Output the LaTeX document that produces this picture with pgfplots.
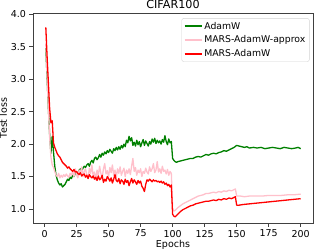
\documentclass[border=0pt]{standalone}
\usepackage{pgfplots}
\pgfplotsset{compat=1.18}
\usepackage{fontspec}
\setmainfont{DejaVu Sans}
\definecolor{mplgreen}{RGB}{0,128,0}
\definecolor{mplpink}{RGB}{255,192,203}
\definecolor{mplred}{RGB}{255,0,0}
\pgfplotstableread{
e v
1 3.48
2 3.02
3 2.55
4 2.15
5 1.86
6 2.12
7 1.88
8 1.66
9 1.52
10 1.45
11 1.40
12 1.37
13 1.39
14 1.34
15 1.36
16 1.38
17 1.42
18 1.46
19 1.44
20 1.49
21 1.47
22 1.52
23 1.50
24 1.55
25 1.57
26 1.54
27 1.60
28 1.62
29 1.59
30 1.63
31 1.66
32 1.64
33 1.68
34 1.70
35 1.66
36 1.72
37 1.75
38 1.71
39 1.78
40 1.80
41 1.76
42 1.79
43 1.84
44 1.80
45 1.86
46 1.83
47 1.88
48 1.85
49 1.90
50 1.87
51 1.92
52 1.89
53 1.86
54 1.93
55 1.90
56 1.95
57 1.91
58 1.96
59 1.92
60 1.98
61 1.94
62 2.00
63 1.96
64 2.06
65 2.02
66 2.12
67 2.05
68 2.10
69 1.98
70 2.03
71 1.97
72 2.06
73 1.99
74 2.04
75 1.96
76 2.02
77 2.07
78 1.98
79 2.05
80 2.01
81 1.97
82 2.04
83 2.00
84 2.08
85 2.03
86 2.09
87 2.01
88 2.06
89 2.02
90 2.05
91 2.00
92 2.07
93 2.03
94 2.13
95 2.04
96 1.99
97 2.08
98 2.02
99 2.04
100 1.78
101 1.75
102 1.73
103 1.72
104 1.73
106 1.74
108 1.75
110 1.76
112 1.77
114 1.78
116 1.78
118 1.80
120 1.81
122 1.80
124 1.82
126 1.84
128 1.83
130 1.85
132 1.86
134 1.85
136 1.87
138 1.88
140 1.90
142 1.89
144 1.91
146 1.93
148 1.95
150 1.98
152 1.97
154 1.96
156 1.95
158 1.96
160 1.94
163 1.95
166 1.94
169 1.95
172 1.93
175 1.94
178 1.95
181 1.94
184 1.93
187 1.95
190 1.94
193 1.93
196 1.94
198 1.95
200 1.93
}\adamwtab
\pgfplotstableread{
e v
1 3.55
2 3.05
3 2.55
4 2.10
5 1.80
6 1.68
7 1.64
8 1.58
9 1.52
10 1.50
11 1.55
12 1.48
13 1.52
14 1.49
15 1.53
16 1.50
17 1.54
18 1.51
19 1.49
20 1.55
21 1.52
22 1.58
23 1.50
24 1.62
25 1.53
26 1.48
27 1.60
28 1.55
29 1.65
30 1.50
31 1.58
32 1.62
33 1.52
34 1.47
35 1.63
36 1.55
37 1.68
38 1.50
39 1.57
40 1.45
41 1.60
42 1.52
43 1.66
44 1.55
45 1.48
46 1.62
47 1.70
48 1.54
49 1.59
50 1.50
51 1.64
52 1.56
53 1.68
54 1.52
55 1.60
56 1.49
57 1.62
58 1.55
59 1.65
60 1.52
61 1.58
62 1.63
63 1.50
64 1.60
65 1.55
66 1.62
67 1.53
68 1.66
69 1.78
70 1.58
71 1.64
72 1.52
73 1.60
74 1.56
75 1.62
76 1.50
77 1.58
78 1.55
79 1.63
80 1.57
81 1.54
82 1.65
83 1.58
84 1.62
85 1.70
86 1.56
87 1.60
88 1.73
89 1.57
90 1.62
91 1.55
92 1.66
93 1.58
94 1.60
95 1.54
96 1.61
97 1.52
98 1.58
99 1.55
100 1.00
101 0.97
102 0.98
103 1.00
104 1.02
106 1.05
108 1.08
110 1.10
112 1.12
114 1.14
116 1.16
118 1.18
120 1.20
122 1.21
124 1.22
126 1.24
128 1.24
130 1.25
132 1.26
134 1.25
136 1.27
138 1.26
140 1.28
142 1.27
144 1.29
146 1.28
148 1.30
149 1.31
150 1.20
153 1.20
156 1.19
160 1.20
165 1.20
170 1.20
175 1.21
180 1.21
185 1.21
190 1.22
195 1.22
200 1.23
}\approxtab
\pgfplotstableread{
e v
1 3.80
2 3.35
3 2.95
4 2.55
5 2.33
6 2.36
7 2.02
8 1.95
9 1.90
10 1.85
11 1.82
12 1.80
13 1.76
14 1.72
15 1.70
16 1.68
17 1.66
18 1.63
19 1.65
20 1.62
21 1.60
22 1.58
23 1.61
24 1.57
25 1.58
26 1.55
27 1.53
28 1.56
29 1.51
30 1.53
31 1.54
32 1.49
33 1.52
34 1.47
35 1.53
36 1.50
37 1.48
38 1.51
39 1.46
40 1.49
41 1.44
42 1.51
43 1.45
44 1.47
45 1.52
46 1.41
47 1.46
48 1.43
49 1.50
50 1.47
51 1.43
52 1.48
53 1.40
54 1.46
55 1.53
56 1.44
57 1.42
58 1.47
59 1.39
60 1.45
61 1.43
62 1.38
63 1.46
64 1.41
65 1.44
66 1.36
67 1.42
68 1.47
69 1.40
70 1.45
71 1.42
72 1.38
73 1.44
74 1.40
75 1.43
76 1.35
77 1.32
78 1.27
79 1.38
80 1.45
81 1.43
82 1.46
83 1.44
84 1.42
85 1.45
86 1.43
87 1.44
88 1.42
89 1.43
90 1.41
91 1.43
92 1.40
93 1.42
94 1.38
95 1.40
96 1.36
97 1.38
98 1.34
99 1.37
100 0.92
101 0.89
102 0.88
103 0.90
104 0.92
105 0.94
106 0.96
108 0.99
110 1.01
112 1.03
114 1.05
116 1.06
118 1.08
120 1.09
122 1.10
124 1.11
126 1.12
128 1.12
130 1.13
132 1.14
134 1.13
136 1.15
138 1.14
140 1.16
142 1.15
144 1.17
146 1.16
148 1.18
149 1.19
150 1.06
152 1.06
155 1.07
160 1.08
165 1.09
170 1.10
175 1.11
180 1.12
185 1.13
190 1.14
195 1.15
200 1.16
}\marstab
\begin{document}
\begin{tikzpicture}
\useasboundingbox (-33pt,-27pt) rectangle (281pt,223pt);
\begin{axis}[
  at={(0,0)}, anchor=south west,
  width=280pt, height=210pt, scale only axis,
  xmin=-9, xmax=209.6, ymin=0.785, ymax=4.02,
  xtick={0,25,...,200},
  ytick={1.0,1.5,...,4.0},
  yticklabel style={/pgf/number format/.cd,fixed,fixed zerofill,precision=1},
  /pgf/number format/assume math mode=true,
  tick align=outside, tick pos=left,
  major tick length=3.5pt,
  major tick style={black!75, line width=0.6pt},
  axis line style={black!75, line width=0.6pt},
  tick label style={font=\fontsize{9.5}{11}\selectfont},
  label style={font=\fontsize{9.5}{11}\selectfont},
  title style={font=\fontsize{11.2}{13}\selectfont, at={(0.5,1)}, anchor=base, yshift=-2pt},
  title={CIFAR100},
  xlabel={Epochs},
  ylabel={Test loss},
  xlabel style={at={(0.5,0)}, anchor=base, yshift=-24.5pt},
  ylabel style={at={(0,0.5)}, anchor=base, yshift=26pt},
  legend style={at={(0.9875,0.975)}, anchor=north east, draw=gray!35, rounded corners=2pt,
     font=\fontsize{9.3}{11}\selectfont, inner xsep=2pt, inner ysep=1.5pt,
     row sep=1.2pt, cells={anchor=west}},
  legend cell align=left,
]
\addplot[draw=mplgreen, line width=1.3pt, line join=round, forget plot] table[x=e,y=v] {\adamwtab};
\addplot[draw=mplpink, line width=1.3pt, line join=round, forget plot] table[x=e,y=v] {\approxtab};
\addplot[draw=mplred, line width=1.3pt, line join=round, forget plot] table[x=e,y=v] {\marstab};
\addlegendimage{draw=mplgreen, line width=1.5pt, line legend}
\addlegendentry{AdamW}
\addlegendimage{draw=mplpink, line width=1.5pt, line legend}
\addlegendentry{MARS-AdamW-approx}
\addlegendimage{draw=mplred, line width=1.5pt, line legend}
\addlegendentry{MARS-AdamW}
\end{axis}
\end{tikzpicture}
\end{document}
